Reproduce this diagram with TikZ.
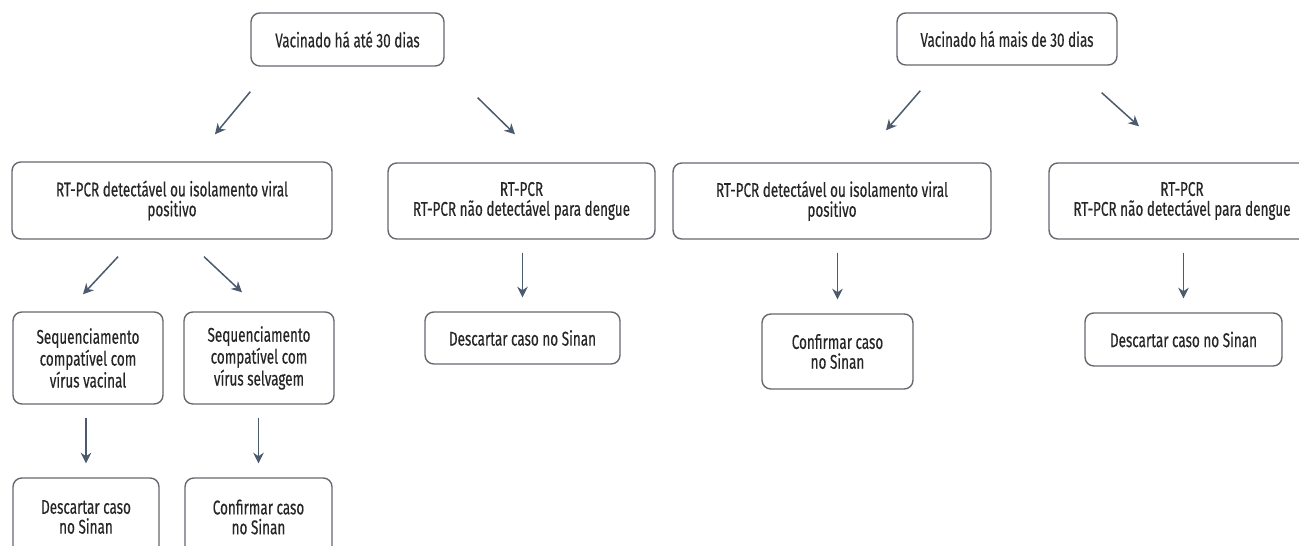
\documentclass[tikz,border=0pt]{standalone}
\usepackage{fontspec}
\setmainfont{Fira Sans}[FakeStretch=0.68, FakeBold=0.35]
\usepackage{tikz}
\usetikzlibrary{arrows.meta, positioning, calc}
\definecolor{boxLine}{HTML}{64686E}
\definecolor{textDark}{HTML}{262626}
\definecolor{arrowSlate}{HTML}{4B5A6C}

\begin{document}
\begin{tikzpicture}[
    x=0.02cm, y=-0.02cm,
    box/.style={rectangle, rounded corners=5pt, draw=boxLine, line width=0.8pt,
                fill=white, inner sep=0pt, align=center,
                font=\fontsize{11.3}{11.3}\selectfont\color{textDark}},
    arr/.style={-{Stealth[length=6pt, width=6pt]}, line width=0.85pt, arrowSlate},
    down/.style={arr, shorten <=0.26cm, shorten >=0.28cm},
  ]
    \path[use as bounding box, clip] (0,0) rectangle (1299,546);

    % vacinado ha ate 30 dias
    \node[box, minimum width=3.86cm, minimum height=1.06cm] (vacAte) at (347.5,39.5)
      {Vacinado há até 30 dias};
    \node[box, minimum width=6.40cm, minimum height=1.54cm] (pcrPos) at (172,200.5)
      {RT-PCR detectável ou isolamento viral\\positivo};
    \node[box, minimum width=5.34cm, minimum height=1.52cm] (pcrNeg) at (521.5,201)
      {RT-PCR\\RT-PCR não detectável para dengue};
    \node[box, minimum width=3.00cm, minimum height=1.84cm] (seqVac) at (88,358)
      {Sequenciamento\\compatível com\\vírus vacinal};
    \node[box, minimum width=3.00cm, minimum height=1.84cm] (seqSel) at (259,358)
      {Sequenciamento\\compatível com\\vírus selvagem};
    \node[box, minimum width=3.90cm, minimum height=1.04cm] (descNeg) at (522.5,338)
      {Descartar caso no Sinan};
    \node[box, minimum width=2.92cm, minimum height=1.56cm] (descVac) at (86,517)
      {Descartar caso\\no Sinan};
    \node[box, minimum width=2.94cm, minimum height=1.56cm] (confSel) at (258.5,517)
      {Confirmar caso\\no Sinan};

    % vacinado ha mais de 30 dias
    \node[box, minimum width=4.40cm, minimum height=1.04cm] (vacMais) at (1007,39)
      {Vacinado há mais de 30 dias};
    \node[box, minimum width=6.36cm, minimum height=1.52cm] (pcrPosB) at (832,201)
      {RT-PCR detectável ou isolamento viral\\positivo};
    \node[box, minimum width=5.32cm, minimum height=1.52cm] (pcrNegB) at (1182,201)
      {RT-PCR\\RT-PCR não detectável para dengue};
    \node[box, minimum width=3.02cm, minimum height=1.50cm] (confPos) at (837.5,351.5)
      {Confirmar caso\\no Sinan};
    \node[box, minimum width=3.94cm, minimum height=1.06cm] (descNegB) at (1183.5,339.5)
      {Descartar caso no Sinan};

    \draw[arr] ($(vacAte.south west)+(0,25)$) -- ($(pcrPos.north)+(43,-27)$);
    \draw[arr] ($(vacAte.south east)+(33,31)$) -- ($(pcrNeg.north)+(-6.5,-28)$);
    \draw[arr] ($(pcrPos.south)+(-54,17)$) -- ($(seqVac.north)+(-5,-17)$);
    \draw[arr] ($(pcrPos.south)+(32,17)$) -- ($(seqSel.north)+(-17,-19)$);
    \draw[down] (descNeg.north |- pcrNeg.south) -- (descNeg.north);
    \draw[down] (descVac.north |- seqVac.south) -- (descVac.north);
    \draw[down] (confSel.north |- seqSel.south) -- (confSel.north);

    \draw[arr] ($(vacMais.south west)+(24,25)$) -- ($(pcrPosB.north)+(54,-32)$);
    \draw[arr] ($(vacMais.south east)+(-16,27)$) -- ($(pcrNegB.north)+(-43,-36)$);
    \draw[down] (confPos.north |- pcrPosB.south) -- (confPos.north);
    \draw[down] (descNegB.north |- pcrNegB.south) -- (descNegB.north);
  \end{tikzpicture}
\end{document}
